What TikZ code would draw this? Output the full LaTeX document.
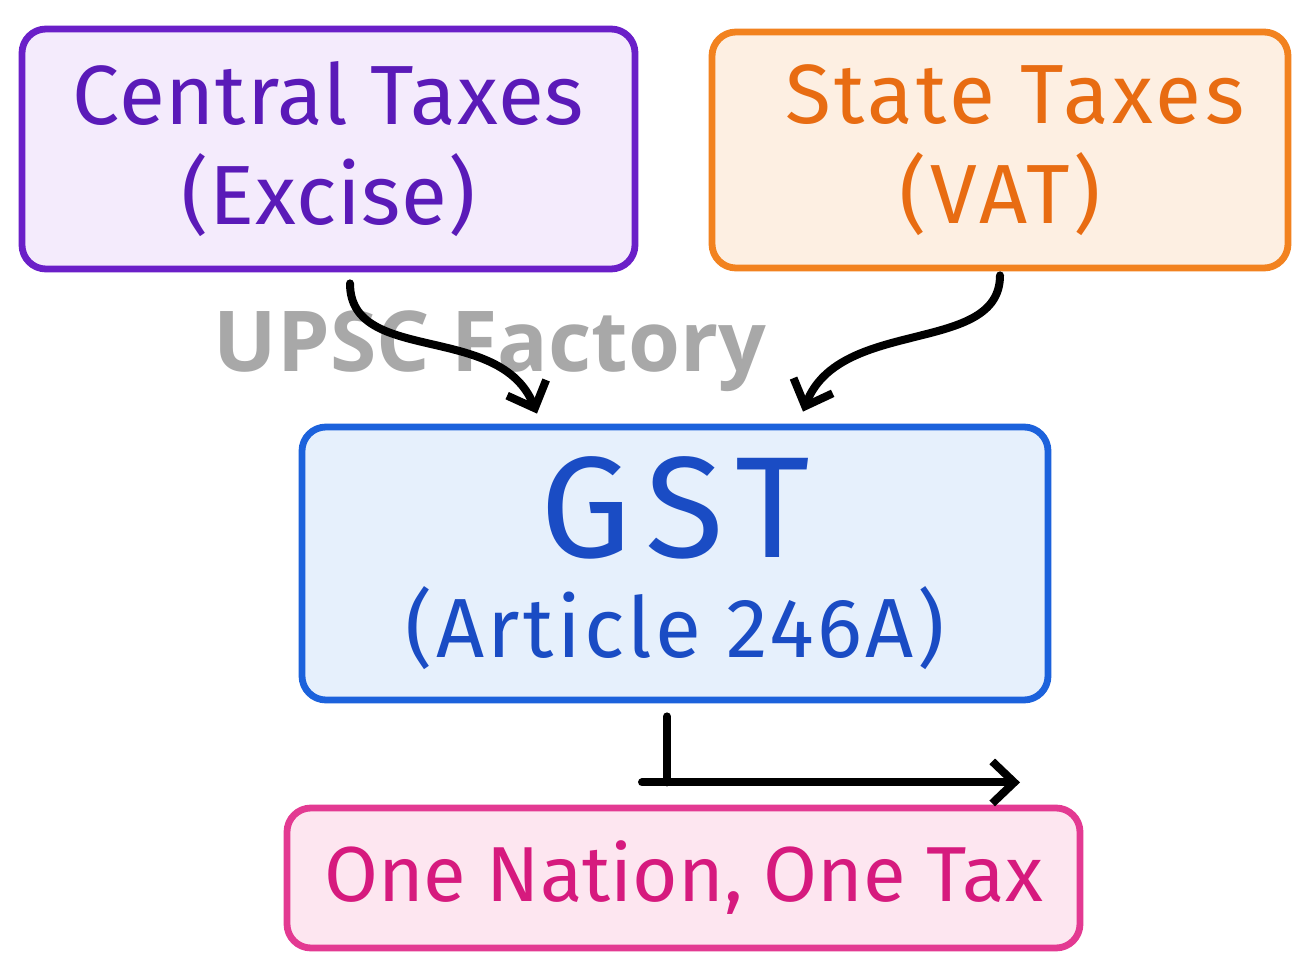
\documentclass[tikz,border=0pt]{standalone}
\usepackage{fontspec}
\setmainfont{Fira Sans}
\newfontfamily\wmfont{Open Sans}[BoldFont={* Bold}]
\usetikzlibrary{arrows.meta,calc}
\definecolor{pBorder}{HTML}{6A1FC8}
\definecolor{pText}{HTML}{5A1AB8}
\definecolor{pFill}{HTML}{F4EBFC}
\definecolor{oBorder}{HTML}{F2821F}
\definecolor{oText}{HTML}{E86C12}
\definecolor{oFill}{HTML}{FDEFE2}
\definecolor{bBorder}{HTML}{1C62DC}
\definecolor{bText}{HTML}{1A4CC4}
\definecolor{bFill}{HTML}{E6F0FC}
\definecolor{kBorder}{HTML}{E33A92}
\definecolor{kText}{HTML}{D61A7E}
\definecolor{kFill}{HTML}{FDE6F0}
\definecolor{wmGray}{HTML}{A8A8A8}
\tikzset{
  taxbox/.style={draw, line width=3.4pt, rounded corners=12pt, align=center, inner sep=0pt},
  flowarrow/.style={draw=black, line width=4pt, line cap=round, line join=round,
    -{Straight Barb[length=11pt,width=21pt,line width=4pt]}},
  flowline/.style={draw=black, line width=4pt, line cap=round}
}
\begin{document}
\begin{tikzpicture}[x=0.5pt,y=-0.5pt]
\useasboundingbox[fill=white] (0,0) rectangle (1311,972);
% watermark
\node[text=wmGray, font=\wmfont\bfseries\fontsize{42pt}{44pt}\selectfont] (wm) at (490,351) {UPSC Factory};
% boxes
\node[taxbox, draw=pBorder, fill=pFill, text=pText, minimum width=306.5pt, minimum height=120pt,
  font=\fontsize{42pt}{50pt}\selectfont\addfontfeature{LetterSpace=1}] (central) at (328.5,149) {Central Taxes\\(Excise)};
\node[taxbox, draw=oBorder, fill=oFill, text=oText, minimum width=288pt, minimum height=118pt,
  font=\fontsize{42pt}{50pt}\selectfont\addfontfeature{LetterSpace=4}] (state) at (1000,150) {\hspace*{15pt}State Taxes\\(VAT)};
\node[taxbox, draw=bBorder, fill=bFill, text=bText, minimum width=373pt, minimum height=136.5pt,
  font=\fontsize{42pt}{48pt}\selectfont\addfontfeature{LetterSpace=4}] (gst) at (675,563.5) {{\fontsize{72pt}{76pt}\selectfont\addfontfeature{LetterSpace=10}GST}\\[2pt](Article 246A)};
\node[taxbox, draw=kBorder, fill=kFill, text=kText, minimum width=396.5pt, minimum height=70pt,
  font=\fontsize{39pt}{48pt}\selectfont] (one) at (683.5,878) {One Nation, One Tax};
% connectors
\coordinate (c1) at ([xshift=10.75pt,yshift=-5.5pt]central.south);
\coordinate (g1) at ([xshift=-69pt,yshift=5pt]gst.north);
\draw[flowarrow] (c1) .. controls ($(c1)+(0,-41pt)$) and ($(g1)+(-18.5pt,46pt)$) .. (g1);
\coordinate (s1) at ([yshift=-2pt]state.south);
\coordinate (g2) at ([xshift=64pt,yshift=6pt]gst.north);
\draw[flowarrow] (s1) .. controls ($(s1)+(0,-40pt)$) and ($(g2)+(18.5pt,47.5pt)$) .. (g2);
\coordinate (gb) at ([xshift=-4pt,yshift=-6.5pt]gst.south);
\coordinate (jn) at ([yshift=-33pt]gb);
\coordinate (ls) at ([xshift=-12.5pt]jn);
\coordinate (le) at ([xshift=176.5pt]jn);
\draw[flowline] (gb) -- (jn);
\draw[flowarrow] (ls) -- (le);
\end{tikzpicture}
\end{document}
